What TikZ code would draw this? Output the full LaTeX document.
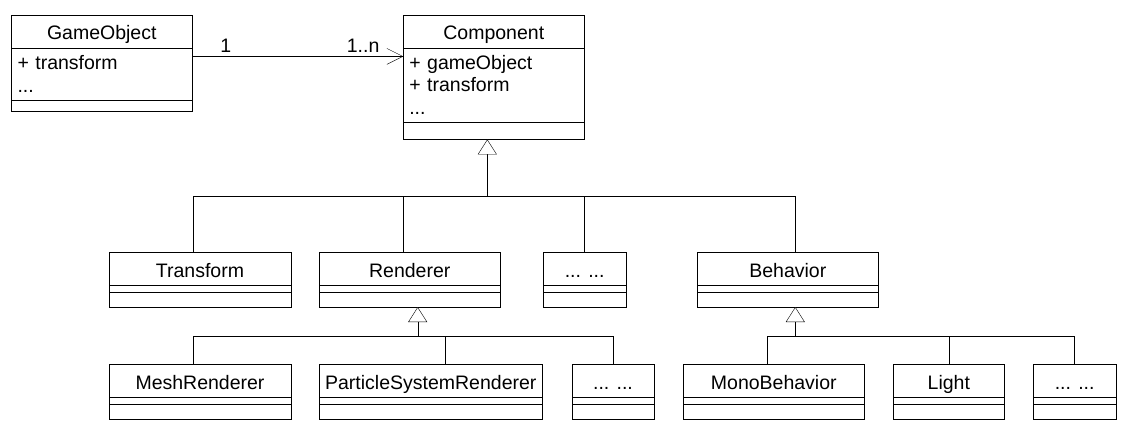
\documentclass[tikz,border=0pt]{standalone}
\usepackage{fontspec}
\setmainfont{Liberation Sans}
\usetikzlibrary{
  arrows.meta,
  positioning,  % below=0pt of ...
}
\tikzset{
  font=\fontsize{19.5}{22.5}\selectfont,
  line width=1pt,
  cls head/.style={
    draw,
    rectangle,
    inner sep=0pt,
    outer sep=0pt,
    minimum height=33pt,
    text height=17pt,
    text depth=0pt,
    anchor=north west
  },
  cls part/.style={
    draw,
    rectangle,
    inner sep=0pt,
    outer sep=0pt,
    minimum height=7pt
  },
  cls attr/.style={
    draw,
    rectangle,
    inner xsep=6pt,
    inner ysep=0pt,
    outer sep=0pt,
    align=left
  },
  assoc/.style={-{Straight Barb[length=16pt,width=16pt]}},
  inherit/.style={-{Triangle[open,length=15pt,width=19pt,fill=white]}}
}
% Class box with empty attribute and method parts
\newcommand{\umlclass}[4]{%
  \node[cls head,minimum width=#3] (#1) at (#2) {#4};
  \node[cls part,minimum width=#3,below=0pt of #1] (#1-a) {};
  \node[cls part,minimum width=#3,minimum height=15pt,below=0pt of #1-a] (#1-m) {};
}

\begin{document}
\begin{tikzpicture}[x=1pt,y=-1pt]
\useasboundingbox (0,0) rectangle (1126,432);
% GameObject and Component
\node[cls head,minimum width=180.5pt] (go) at (11.5,14.7) {GameObject};
\node[cls attr,text width=168.5pt,minimum height=52pt,below=0pt of go] (go-a) {+ transform\\...};
\node[cls part,minimum width=180.5pt,minimum height=11.7pt,below=0pt of go-a] (go-m) {};
\node[cls head,minimum width=181pt] (comp) at (403.3,14.7) {Component};
\node[cls attr,text width=169pt,minimum height=74.4pt,below=0pt of comp] (comp-a) {+ gameObject\\+ transform\\...};
\node[cls part,minimum width=181pt,minimum height=17.3pt,below=0pt of comp-a] (comp-m) {};
\draw[assoc] ([yshift=-8.7pt]go-a.north east) --
  node[pos=0.16,above] {1}
  node[pos=0.81,above] {1..n}
  ([yshift=-8.7pt]comp-a.north west);
% Second row
\umlclass{tr}{109.3,252}{181.4pt}{Transform}
\umlclass{rend}{319.5,252}{180.5pt}{Renderer}
\umlclass{dots1}{543.3,252}{82.7pt}{... ...}
\umlclass{beh}{697.3,252}{181pt}{Behavior}
% Third row
\umlclass{mesh}{109.3,364.3}{181.4pt}{MeshRenderer}
\umlclass{psr}{319.3,364.3}{223pt}{ParticleSystemRenderer}
\umlclass{dots2}{571.7,364.3}{82.6pt}{... ...}
\umlclass{mono}{683.3,364.3}{181pt}{MonoBehavior}
\umlclass{light}{893.3,364.3}{111pt}{Light}
\umlclass{dots3}{1033.3,364.3}{82.7pt}{... ...}
% Generalization: Component
\coordinate (comp-j) at (487.3,196);
\draw[inherit] (comp-j) -- (comp-m.south -| comp-j);
\draw ([xshift=-6.7pt]tr.north) |- (comp-j);
\draw ([xshift=-6.5pt]rend.north) |- (comp-j);
\draw (dots1.north) |- (comp-j);
\draw ([xshift=7.5pt]beh.north) |- (comp-j);
% Generalization: Renderer
\coordinate (rend-j) at (417.7,336);
\draw[inherit] (rend-j) -- (rend-m.south -| rend-j);
\draw ([xshift=-6.7pt]mesh.north) |- (rend-j);
\draw ([xshift=14.5pt]psr.north) |- (rend-j);
\draw (dots2.north) |- (rend-j);
% Generalization: Behavior
\coordinate (beh-j) at (795.3,336);
\draw[inherit] (beh-j) -- (beh-m.south -| beh-j);
\draw ([xshift=-6.5pt]mono.north) |- (beh-j);
\draw (light.north) |- (beh-j);
\draw (dots3.north) |- (beh-j);
\end{tikzpicture}
\end{document}
